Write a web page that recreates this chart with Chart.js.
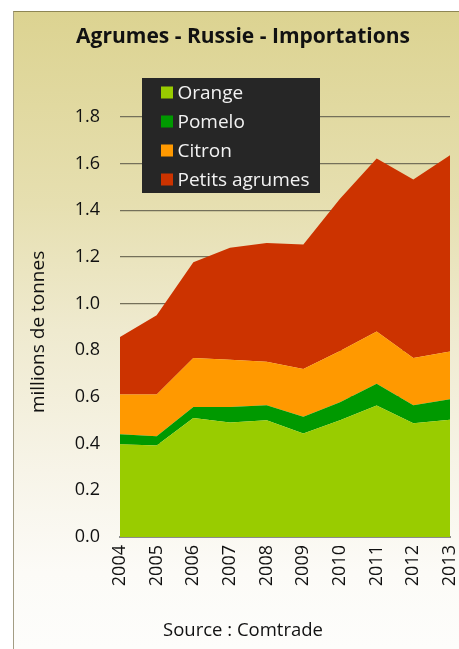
<!DOCTYPE html>
<html lang="fr">
<head>
<meta charset="UTF-8"/>
<title>Agrumes - Russie - Importations</title>
<script src="https://cdn.jsdelivr.net/npm/chart.js"></script>
<style>
    html, body { margin: 0; padding: 0; background: #ffffff; }
    #page { position: relative; width: 459px; height: 649px; overflow: hidden; }
    #panneau {
        position: absolute; left: 13px; top: 11px; right: 0; bottom: 0;
        border-top: 1px solid #8e8654;
        border-left: 1px solid #a39d84;
        background: linear-gradient(to bottom, #dcd391 0%, #e6dfb0 30%, #efeacf 50%, #f7f4e8 72%, #fcfbf7 88%, #fdfdfb 100%);
    }
    #graphique { position: absolute; left: 0; top: 0; }
</style>
</head>
<body>
<div id="page">
    <div id="panneau"></div>
    <canvas id="graphique" width="459" height="649"></canvas>
</div>

<script>
// Données (millions de tonnes)
const annees = ['2004', '2005', '2006', '2007', '2008', '2009', '2010', '2011', '2012', '2013'];
const orange = [0.397, 0.392, 0.510, 0.491, 0.500, 0.444, 0.500, 0.564, 0.488, 0.503];
const pomelo = [0.043, 0.040, 0.047, 0.066, 0.065, 0.071, 0.078, 0.093, 0.077, 0.087];
const citron = [0.171, 0.179, 0.210, 0.203, 0.186, 0.205, 0.219, 0.224, 0.202, 0.205];
const petitsAgrumes = [0.246, 0.339, 0.410, 0.480, 0.509, 0.534, 0.653, 0.741, 0.765, 0.841];
const ticksY = [0, 0.2, 0.4, 0.6, 0.8, 1.0, 1.2, 1.4, 1.6, 1.8];

const police = '"Open Sans", "Noto Sans", sans-serif';

function serie(label, data, couleur, fill) {
    return {
        label: label,
        data: data,
        backgroundColor: couleur,
        borderColor: couleur,
        borderWidth: 0,
        pointRadius: 0,
        tension: 0,
        fill: fill
    };
}

// Légende dessinée dans la zone du graphique (boîte sombre)
const legendeInterne = {
    id: 'legendeInterne',
    afterDatasetsDraw(chart) {
        const ctx = chart.ctx;
        const ca = chart.chartArea;
        const x = ca.left + 22, y = ca.top - 39;
        ctx.save();
        ctx.fillStyle = '#262626';
        ctx.fillRect(x, y, 178, 115);
        ctx.font = '19px ' + police;
        ctx.textBaseline = 'middle';
        chart.data.datasets.forEach((ds, i) => {
            const cy = y + 14.5 + i * 29;
            ctx.fillStyle = ds.backgroundColor;
            ctx.fillRect(x + 19, cy - 6, 12, 12);
            ctx.fillStyle = '#f2f2f2';
            ctx.fillText(ds.label, x + 35.5, cy + 1);
        });
        ctx.restore();
    }
};

const config = {
    type: 'line',
    data: {
        labels: annees,
        datasets: [
            serie('Orange', orange, '#99cc00', 'origin'),
            serie('Pomelo', pomelo, '#009900', '-1'),
            serie('Citron', citron, '#ff9900', '-1'),
            serie('Petits agrumes', petitsAgrumes, '#cc3300', '-1')
        ]
    },
    options: {
        responsive: false,
        animation: false,
        devicePixelRatio: 1,
        layout: { padding: { left: 27, right: 0, top: 0, bottom: 0 } },
        plugins: {
            legend: { display: false },
            tooltip: { enabled: false },
            title: {
                display: true,
                text: 'Agrumes - Russie - Importations',
                color: '#111111',
                font: { family: police, size: 21, weight: 'bold' },
                padding: { top: 24.4, bottom: 67.4 }
            },
            subtitle: {
                display: true,
                position: 'bottom',
                text: 'Source : Comtrade',
                color: '#111111',
                font: { family: police, size: 18.5 },
                padding: { top: 23.1, bottom: 6.7 }
            }
        },
        scales: {
            x: {
                offset: false,
                grid: { display: false, drawTicks: false },
                border: { display: true, color: '#8c8c8c', width: 2 },
                ticks: {
                    autoSkip: false,
                    minRotation: 90,
                    maxRotation: 90,
                    padding: 8,
                    color: '#111111',
                    font: { family: police, size: 18 }
                },
                afterFit(scale) {
                    scale.height = 60;
                    scale.paddingLeft = 0;
                    scale.paddingRight = 9;
                }
            },
            y: {
                stacked: true,
                min: 0,
                max: 1.8,
                afterBuildTicks(scale) {
                    scale.ticks = ticksY.map(v => ({ value: v }));
                },
                grid: { color: '#74705a', lineWidth: 1.3, drawTicks: false },
                border: { display: false },
                ticks: {
                    padding: 20,
                    color: '#111111',
                    font: { family: police, size: 18 },
                    callback: v => v.toFixed(1)
                },
                title: {
                    display: true,
                    text: 'millions de tonnes  ',
                    color: '#111111',
                    font: { family: police, size: 19 },
                    padding: 0
                },
                afterFit(scale) { scale.width = 93; }
            }
        }
    },
    plugins: [legendeInterne]
};

new Chart(document.getElementById('graphique').getContext('2d'), config);
</script>
</body>
</html>
